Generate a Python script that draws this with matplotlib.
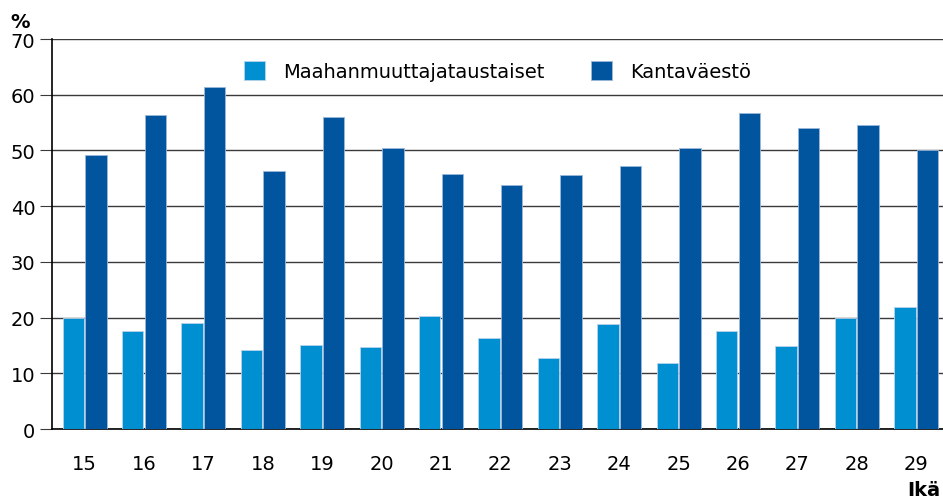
import numpy as np
import matplotlib.pyplot as plt

ages = ['15', '16', '17', '18', '19', '20', '21', '22', '23', '24', '25', '26', '27', '28', '29']
maahanmuuttajat = [19.9, 17.6, 19.0, 14.2, 15.1, 14.7, 20.3, 16.3, 12.7, 18.8, 11.8, 17.6, 14.9, 19.9, 21.9]
kantavaesto = [49.2, 56.4, 61.4, 46.3, 56.0, 50.4, 45.8, 43.8, 45.6, 47.2, 50.4, 56.7, 54.0, 54.6, 50.1]

light = '#008fd1'
dark = '#00559e'

fig = plt.figure(figsize=(9.43, 5.02), dpi=100)
ax = fig.add_axes([0.0551, 0.1434, 0.9449, 0.7769])

x = np.arange(len(ages))
w = 0.36
ax.bar(x - w / 2 - 0.01, maahanmuuttajat, w, color=light, edgecolor='#b8d4ea', linewidth=0.6,
       label='Maahanmuuttajataustaiset', zorder=3)
ax.bar(x + w / 2 + 0.01, kantavaesto, w, color=dark, edgecolor='#9cb8d8', linewidth=0.6,
       label='Kantaväestö', zorder=3)

ax.set_ylim(0, 70)
ax.set_xlim(-0.55, 14.45)
ax.set_yticks(range(0, 71, 10))
ax.set_xticks(x)
ax.set_xticklabels(ages)
ax.yaxis.grid(True, color='#3a3a3a', linewidth=1, zorder=0)
ax.set_axisbelow(True)

for s in ['top', 'right']:
    ax.spines[s].set_visible(False)
ax.spines['left'].set_color('black')
ax.spines['bottom'].set_color('black')
ax.spines['left'].set_linewidth(1.2)
ax.spines['bottom'].set_linewidth(1.2)

ax.tick_params(axis='y', length=9, color='#3a3a3a', labelsize=14, pad=3)
ax.tick_params(axis='x', length=0, labelsize=14, pad=18)

ax.legend(loc='center', bbox_to_anchor=(0.5, 0.918), ncol=2, frameon=False, fontsize=14,
          handlelength=1.1, handleheight=1.1, columnspacing=2.4, handletextpad=0.9)

fig.text(0.011, 0.955, '%', fontsize=14, fontweight='bold', ha='left', va='center')
fig.text(0.997, 0.022, 'Ikä', fontsize=14, fontweight='bold', ha='right', va='center')

fig.savefig('out.png', dpi=100)
